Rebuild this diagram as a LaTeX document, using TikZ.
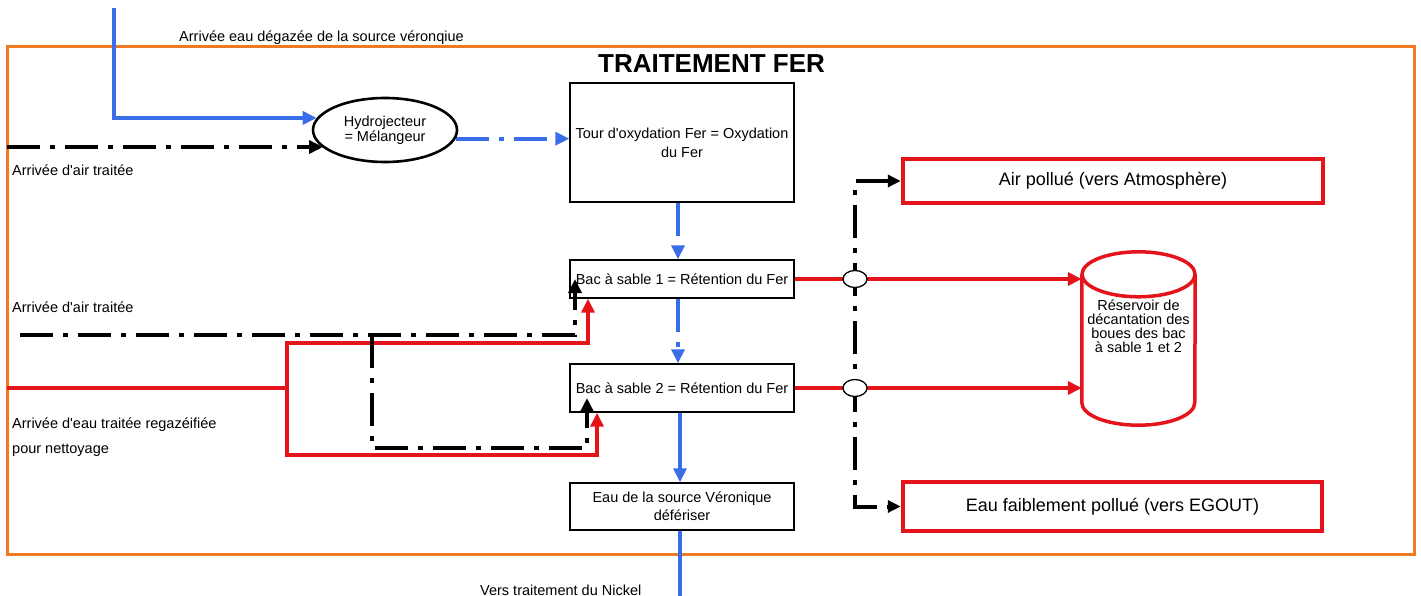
\documentclass[tikz,border=0pt]{standalone}
\usepackage{fontspec}
\setmainfont{Liberation Sans}[Ligatures=TeXOff]
\usetikzlibrary{arrows.meta,shapes.geometric}
\pgfdeclarelayer{background}
\pgfsetlayers{background,main}

\definecolor{framec}{RGB}{240,122,36}
\definecolor{waterc}{RGB}{58,110,232}
\definecolor{sludgec}{RGB}{228,20,26}

\newcommand\txtfont{\fontsize{14.5}{19}\selectfont}
\newcommand\bigtxtfont{\fontsize{18}{22}\selectfont}

\begin{document}
\begin{tikzpicture}[
  x=1pt, y=-1pt,
  tip/.style={-{Triangle[length=14pt,width=13pt]}},
  bothtips/.style={{Triangle[length=13pt,width=12pt]}-{Triangle[length=13pt,width=12pt]}},
  dashdot/.style={dash pattern=on 33pt off 10pt on 5pt off 10pt},
  bluepipe/.style={draw=waterc, line width=4pt},
  redpipe/.style={draw=sludgec, line width=4pt},
  airpipe/.style={draw=black, line width=4pt, dashdot},
  stepbox/.style={draw=black, line width=1.4pt, fill=white, minimum width=224pt,
    inner sep=0pt, align=center, font=\txtfont},
  outbox/.style={draw=sludgec, line width=4.5pt, fill=white, inner sep=0pt,
    align=center, font=\bigtxtfont},
  mixer/.style={ellipse, draw=black, line width=2.6pt, fill=white, inner sep=0pt,
    minimum width=144pt, minimum height=64pt, align=center,
    font=\fontsize{14.5}{15}\selectfont},
  hop/.style={ellipse, draw=black, line width=1.3pt, fill=white, inner sep=0pt,
    minimum width=24pt, minimum height=17pt},
  freetext/.style={inner sep=0pt, font=\txtfont, anchor=base west},
]
\useasboundingbox (0,0) rectangle (1421,596);

% ---- process units ----
\node[font=\fontsize{26}{30}\selectfont\bfseries, inner sep=0pt, anchor=base]
  (title) at (711.5,73) {TRAITEMENT FER};
\node[mixer] (hyd) at (385,130) {Hydrojecteur\\= Mélangeur};
\node[stepbox, minimum height=119pt] (tour) at (682,142.5)
  {Tour d'oxydation Fer = Oxydation\\du Fer};
\node[stepbox, minimum height=38pt] (bac1) at (682,279)
  {Bac à sable 1 = Rétention du Fer};
\node[stepbox, minimum height=48pt] (bac2) at (682,388)
  {Bac à sable 2 = Rétention du Fer};
\node[stepbox, minimum height=47pt, font=\fontsize{14.5}{18}\selectfont] (eau) at (682,506.5)
  {Eau de la source Véronique\\défériser};
\node[outbox, minimum width=420pt, minimum height=44pt] (air) at (1113,181)
  {Air pollué (vers Atmosphère)};
\node[outbox, minimum width=419pt, minimum height=49pt] (egout) at (1112.5,506.5)
  {Eau faiblement pollué (vers EGOUT)};

% settling tank (cylinder)
\node[inner sep=0pt, minimum width=113pt, minimum height=173pt] (res) at (1138.5,338.5) {};
\draw[sludgec, line width=3.5pt, fill=white]
  ([yshift=-22.5pt]res.north west) -- ([yshift=22.5pt]res.south west)
  arc[start angle=180, end angle=360, x radius=56.5pt, y radius=22.5pt]
  -- ([yshift=-22.5pt]res.north east);
\draw[sludgec, line width=3.5pt, fill=white]
  ([yshift=-22.5pt]res.north) ellipse [x radius=56.5, y radius=22.5];
\node[inner sep=0pt, align=center, font=\fontsize{14.5}{14}\selectfont]
  (restext) at ([yshift=12.5pt]res.center)
  {Réservoir de\\décantation des\\boues des bac\\à sable 1 et 2};

% line crossings
\node[hop] (hop1) at (855,279) {};
\node[hop] (hop2) at (855,388) {};

% ---- free ends and junctions ----
\coordinate (srcin) at (114,8);
\coordinate (airin1) at (7,147);
\coordinate (airin2) at (20,335);
\coordinate (airsplit) at (372,335);
\coordinate (airlow) at (372,448);
\coordinate (waterin) at (7,388);
\coordinate (rj) at (287,388);
\coordinate (nickel) at (680,600);

% ---- labels ----
\node[freetext] (lsrc) at (179,42) {Arrivée eau dégazée de la source véronqiue};
\node[freetext] (lair1) at (12,176) {Arrivée d'air traitée};
\node[freetext] (lair2) at (12,312) {Arrivée d'air traitée};
\node[freetext] (lwat1) at (12,428) {Arrivée d'eau traitée regazéifiée};
\node[freetext] (lwat2) at (12,453) {pour nettoyage};
\node[freetext] (lnick) at (480,595) {Vers traitement du Nickel};

% ---- piping ----
\begin{pgfonlayer}{background}
  \draw[framec, line width=3pt] (7,47) rectangle (1414,554);
  % water line
  \draw[bluepipe, tip] (srcin) |- (hyd.170);
  \draw[bluepipe, dashdot, tip] (hyd.353) -- (hyd.353 -| tour.west);
  \draw[bluepipe, dashdot, tip] ([xshift=-4pt]tour.south) -- ([xshift=-4pt]bac1.north);
  \draw[bluepipe, dashdot, tip] ([xshift=-4pt]bac1.south) -- ([xshift=-4pt]bac2.north);
  \draw[bluepipe, tip] ([xshift=-2pt]bac2.south) -- ([xshift=-2pt]eau.north);
  \draw[bluepipe] ([xshift=-2pt]eau.south) -- (nickel);
  % treated air to the mixer
  \draw[airpipe, tip] (airin1) -- (airin1 -| hyd.196);
  % sludge to the settling tank
  \draw[redpipe, tip] (bac1.east) -- (bac1.east -| res.west);
  \draw[redpipe, tip] (bac2.east) -- (bac2.east -| res.west);
  % exhaust collector
  \draw[airpipe, bothtips] (air.west) -| (hop1.center) -- (hop2.center) |- (egout.west);
  % cleaning water
  \draw[redpipe] (waterin) -- (rj);
  \draw[redpipe, tip] (rj) -- ++(0,-45) -| ([xshift=-94pt]bac1.south);
  \draw[redpipe, tip] (rj) -- ++(0,67) -| ([xshift=-85pt]bac2.south);
\end{pgfonlayer}

% cleaning air into the sand filters
\draw[airpipe, tip] (airin2) -| ([xshift=-107pt]bac1.center);
\draw[airpipe, tip] (airsplit) -- (airlow) -| ([xshift=-95pt,yshift=-10pt]bac2.center);
\end{tikzpicture}
\end{document}
